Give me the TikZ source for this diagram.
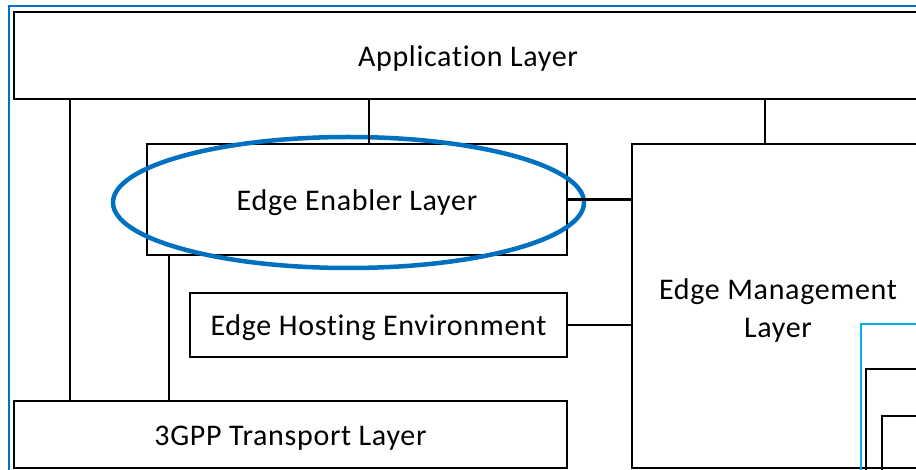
\documentclass[tikz,border=0pt]{standalone}
\usepackage{fontspec}
\setmainfont{Carlito}[Ligatures=NoCommon, LetterSpace=2.3]
\usetikzlibrary{shapes.geometric}
\definecolor{frameblue}{RGB}{0,112,192}
\definecolor{cyanline}{RGB}{0,176,240}
\tikzset{
  layer/.style={draw=black, line width=2.2pt, rectangle, inner sep=0pt, align=center,
    text height=21.5pt, text depth=0pt, font=\fontsize{30}{38}\selectfont},
  label/.style={inner sep=0pt, align=center, font=\fontsize{30}{38}\selectfont},
  conn/.style={draw=black, line width=2.2pt},
  ring/.style={draw=frameblue, line width=4.5pt, ellipse, inner sep=0pt}
}
\begin{document}
\begin{tikzpicture}[x=1pt, y=-1pt]
\useasboundingbox (0,0) rectangle (916,470);
\clip (0,0) rectangle (916,470);
% outer frame
\draw[frameblue, line width=2pt] (9,6) rectangle (930,480);
% boxes
\node[layer, minimum width=908pt, minimum height=87pt] (app) at (468,55.5) {Application Layer};
\node[layer, minimum width=420pt, minimum height=111pt] (eel) at (357,199.5) {Edge Enabler Layer};
\node[layer, minimum width=377pt, minimum height=64pt] (ehe) at (378.5,325) {Edge Hosting Environment};
\node[layer, minimum width=553pt, minimum height=67pt] (tgpp) at (290.5,434.5) {3GPP Transport Layer};
\node[draw=black, line width=2.2pt, rectangle, inner sep=0pt, minimum width=292pt, minimum height=324pt] (eml) at (778,306) {};
\node[label] (emltext) at (778,310.5) {Edge Management\\Layer};
% ellipse highlight
\node[ring, minimum width=471pt, minimum height=131pt] (hl) at (348.5,202.5) {};
% nested boxes at bottom right
\draw[cyanline, line width=1.6pt] (861,324) rectangle (940,490);
\draw[black, line width=1.6pt] (866,369) rectangle (940,490);
\draw[black, line width=1.6pt] (882,416) rectangle (940,490);
% connectors
\coordinate (xa) at (70,0);
\coordinate (xb) at (369,0);
\coordinate (xc) at (765,0);
\coordinate (xd) at (169,0);
\draw[conn] (app.south -| xa) -- (tgpp.north -| xa);
\draw[conn] (app.south -| xb) -- (eel.north -| xb);
\draw[conn] (app.south -| xc) -- (eml.north -| xc);
\draw[conn] (eel.south -| xd) -- (tgpp.north -| xd);
\draw[conn] (eel.east) -- (eml.west |- eel.east);
\draw[conn] (ehe.east) -- (eml.west |- ehe.east);
\end{tikzpicture}
\end{document}
